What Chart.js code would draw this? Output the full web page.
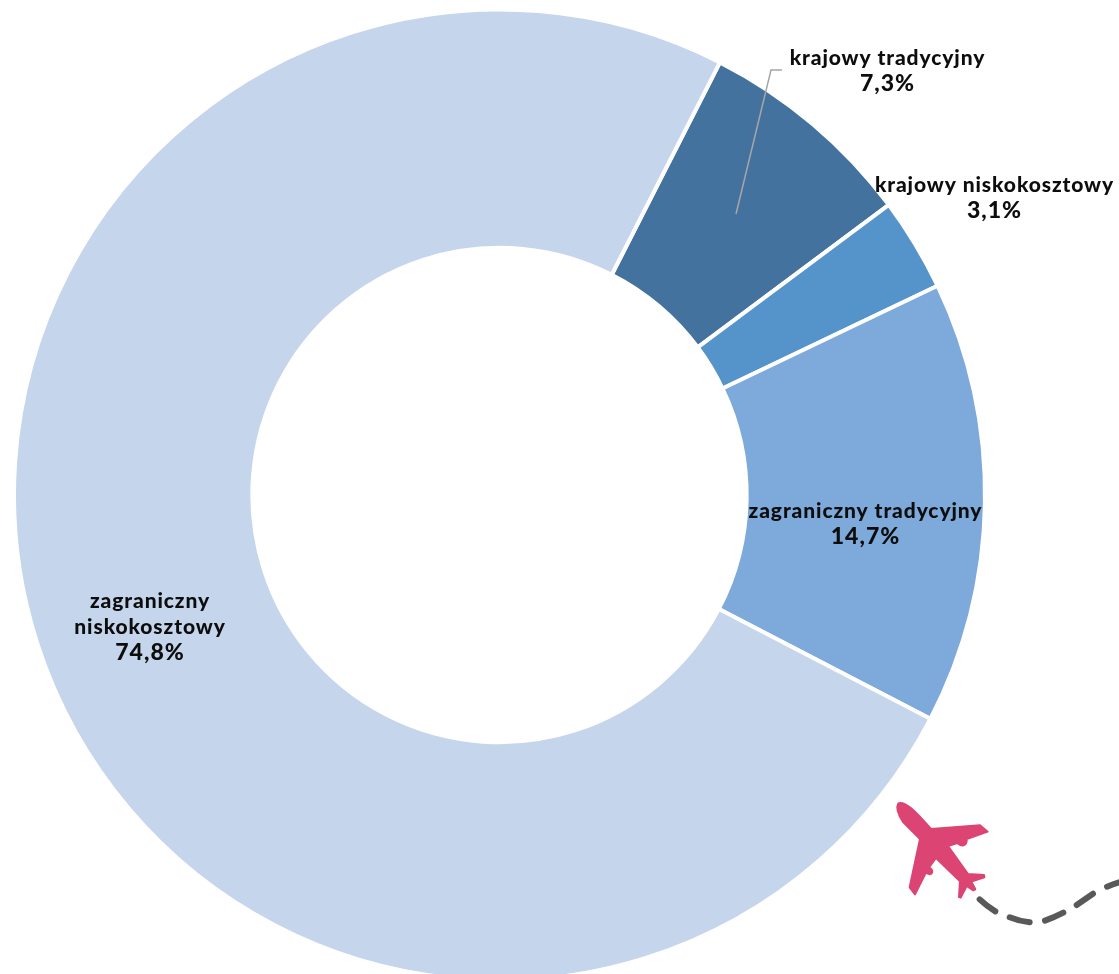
<!DOCTYPE html>
<html lang="pl">
<head>
<meta charset="utf-8">
<title>Ruch lotniczy</title>
<script src="https://cdn.jsdelivr.net/npm/chart.js@4"></script>
<style>
	html, body { margin: 0; padding: 0; background: #ffffff; overflow: hidden; }
	#wrap { position: relative; width: 1119px; height: 974px; overflow: hidden; }
	#chart { position: absolute; left: 0; top: 0; }
	#plane { position: absolute; left: 860px; top: 780px; }
</style>
</head>
<body>
<div id="wrap">
	<canvas id="chart" width="1119" height="990"></canvas>
	<svg id="plane" width="259" height="160" viewBox="0 0 777 480" aria-hidden="true">
		<path fill="#DC4473" stroke="#DC4473" stroke-width="6" stroke-linejoin="round" d="M115 70 C135 62 165 92 213 147 L360 136 L383 155 L320 177 C322 192 310 205 292 189 L264 198 L324 282 L372 285 L373 292 L334 305 L346 328 L340 331 L320 318 L302 353 L297 351 L300 304 L228 234 L207 262 C226 272 214 292 198 277 L165 343 L149 322 L180 177 L130 127 C115 105 107 85 115 70 Z"/>
		<g fill="none" stroke="#595959" stroke-width="18" stroke-linecap="round">
			<path d="M359 358 Q380 378 406 394"/>
			<path d="M449 412 Q478 424 509 427"/>
			<path d="M555 422 Q583 412 610 398"/>
			<path d="M650 375 L699 341"/>
			<path d="M741 320 Q760 312 777 307"/>
		</g>
	</svg>
</div>
<script>
const categories = ["krajowy tradycyjny", "krajowy niskokosztowy", "zagraniczny tradycyjny", "zagraniczny niskokosztowy"];
const shares = [7.3, 3.1, 14.7, 74.8];
const colors = ["#44729F", "#5593CB", "#7DA9DB", "#C5D5EB"];

// label lines and their centre positions, in the order of categories
const labelLines = [
	["krajowy tradycyjny", "7,3%"],
	["krajowy niskokosztowy", "3,1%"],
	["zagraniczny tradycyjny", "14,7%"],
	["zagraniczny", "niskokosztowy", "74,8%"]
];
const labelX = [887.5, 994.5, 865.5, 150];
const labelY = [58, 185, 511, 601];
const lineHeight = 26;

const labelPlugin = {
	id: "sliceLabels",
	afterDraw (chart) {
		const ctx = chart.ctx;
		ctx.save();
		// leader line of the first label
		ctx.strokeStyle = "#A6A6A6";
		ctx.lineWidth = 1.5;
		ctx.beginPath();
		ctx.moveTo(782, 70);
		ctx.lineTo(771, 70);
		ctx.lineTo(736, 214);
		ctx.stroke();
		ctx.fillStyle = "#0d0d0d";
		ctx.textAlign = "center";
		ctx.textBaseline = "middle";
		labelLines.forEach((lines, i) => {
			lines.forEach((line, j) => {
				// the percentage on the last line is set a little larger
				const last = j === lines.length - 1;
				ctx.font = last ? "900 23px Lato" : "900 21px Lato";
				ctx.letterSpacing = last ? "1px" : "0.9px";
				ctx.fillText(line, labelX[i], labelY[i] + j * lineHeight);
			});
		});
		ctx.restore();
	}
};

new Chart(document.querySelector("#chart"), {
	type: "doughnut",
	data: {
		labels: categories,
		datasets: [{
			data: shares,
			backgroundColor: colors,
			borderColor: "#ffffff",
			borderWidth: 4
		}]
	},
	options: {
		responsive: false,
		animation: false,
		devicePixelRatio: 1,
		rotation: 27,
		radius: 485.5,
		cutout: 251,
		layout: { padding: { left: 0, right: 120, top: 0, bottom: 0 } },
		plugins: {
			legend: { display: false },
			tooltip: { enabled: false }
		}
	},
	plugins: [labelPlugin]
});
</script>
</body>
</html>
